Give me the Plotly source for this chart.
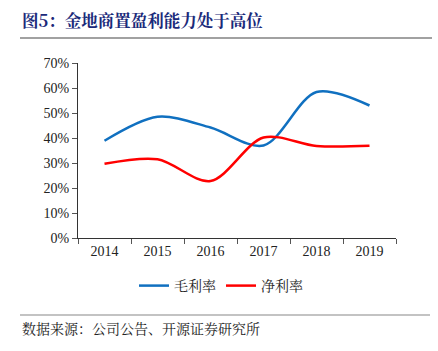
import plotly.graph_objects as go

years = ["2014", "2015", "2016", "2017", "2018", "2019"]
gross_margin = [0.389, 0.485, 0.442, 0.370, 0.584, 0.530]
net_margin = [0.297, 0.315, 0.228, 0.402, 0.368, 0.369]
y_ticks = [0, 0.1, 0.2, 0.3, 0.4, 0.5, 0.6, 0.7]
y_labels = ["0%", "10%", "20%", "30%", "40%", "50%", "60%", "70%"]

fig = go.Figure()
fig.add_trace(go.Scatter(x=years, y=gross_margin, name="毛利率", mode="lines",
                         line=dict(color="#1070C0", width=2.5, shape="spline", smoothing=0.9)))
fig.add_trace(go.Scatter(x=years, y=net_margin, name="净利率", mode="lines",
                         line=dict(color="#FF0000", width=2.5, shape="spline", smoothing=0.9)))

serif = "Liberation Serif, Times New Roman, serif"
cjk = "Noto Serif CJK SC, Noto Sans CJK SC, serif"

L, R, T, B = 78, 42, 63, 113
pw = 438 - L - R
ph = 351 - T - B

def px_x(x):
    return (x - L) / pw

def px_y(y):
    return (351 - B - y) / ph

fig.update_layout(
    width=438, height=351,
    margin=dict(l=L, r=R, t=T, b=B),
    plot_bgcolor="white", paper_bgcolor="white",
    showlegend=True,
    legend=dict(orientation="h", x=px_x(221), xanchor="center", y=px_y(286), yanchor="middle",
                font=dict(family=cjk, size=14, color="#222"),
                tracegroupgap=0),
    xaxis=dict(type="category", showline=True, linecolor="#333", linewidth=1,
               ticks="outside", tickson="boundaries", ticklen=5, tickcolor="#555",
               tickfont=dict(family=serif, size=14, color="#222"), showgrid=False,
               range=[-0.5, 5.5]),
    yaxis=dict(range=[0, 0.7], tickvals=y_ticks, ticktext=y_labels, showline=True,
               linecolor="#333", linewidth=1, ticks="outside", ticklen=5, tickcolor="#555",
               tickfont=dict(family=serif, size=14, color="#222"), showgrid=False,
               zeroline=False),
)

fig.add_annotation(text="<b>图5：金地商置盈利能力处于高位</b>", xref="paper", yref="paper",
                   x=px_x(20), y=px_y(20), xanchor="left", yanchor="middle",
                   showarrow=False, font=dict(family=cjk, size=16.5, color="#1a2a7a"))
fig.add_shape(type="line", xref="paper", yref="paper", x0=px_x(20), x1=px_x(432),
              y0=px_y(38), y1=px_y(38), line=dict(color="#444", width=1.2))
fig.add_shape(type="line", xref="paper", yref="paper", x0=px_x(20), x1=px_x(430),
              y0=px_y(315), y1=px_y(315), line=dict(color="#888", width=1.2))
fig.add_annotation(text="数据来源：公司公告、开源证券研究所", xref="paper", yref="paper",
                   x=px_x(20), y=px_y(328), xanchor="left", yanchor="middle",
                   showarrow=False, font=dict(family=cjk, size=14, color="#222"))

fig.write_html("out.html")
